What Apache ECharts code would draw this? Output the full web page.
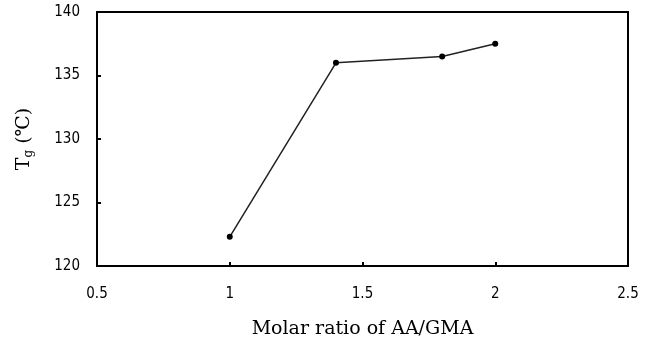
<!DOCTYPE html>
<html>
<head>
<meta charset="utf-8">
<script src="https://cdn.jsdelivr.net/npm/echarts@6/dist/echarts.min.js"></script>
<style>
  html, body { margin: 0; padding: 0; background: #fff; overflow: hidden; }
  #chart { width: 655px; height: 347px; }
</style>
</head>
<body>
<div id="chart"></div>
<script>
// Molar ratio AA/GMA vs glass transition temperature
const ratios = [1, 1.4, 1.8, 2];
const tgValues = [122.3, 136, 136.5, 137.5];
const xTicks = [0.5, 1, 1.5, 2, 2.5];
const yTicks = [120, 125, 130, 135, 140];

const chart = echarts.init(document.getElementById('chart'));
const tickFont = '"DejaVu Sans Condensed", "Liberation Sans", sans-serif';
const titleFont = '"DejaVu Serif", "Liberation Serif", serif';

chart.setOption({
  animation: false,
  backgroundColor: '#fff',
  grid: {
    left: 97, right: 27, top: 12, bottom: 81,
    outerBoundsMode: 'none', containLabel: false,
    show: true, borderColor: '#000', borderWidth: 2, backgroundColor: 'transparent'
  },
  xAxis: {
    type: 'value',
    min: xTicks[0], max: xTicks[xTicks.length - 1], interval: 0.5,
    name: 'Molar ratio of AA/GMA',
    nameLocation: 'middle', nameGap: 54,
    nameTextStyle: { fontFamily: titleFont, fontSize: 19, color: '#000' },
    axisLine: { show: true, lineStyle: { color: '#000', width: 2 } },
    axisTick: { show: true, inside: true, length: 4, lineStyle: { color: '#000', width: 2 } },
    axisLabel: { fontFamily: tickFont, fontSize: 15, color: '#000', margin: 21,
      formatter: v => String(v) },
    splitLine: { show: false }
  },
  yAxis: {
    type: 'value',
    min: yTicks[0], max: yTicks[yTicks.length - 1], interval: 5,
    name: 'T{sub|g} (℃)',
    nameLocation: 'middle', nameGap: 62, nameRotate: 90,
    nameTextStyle: { fontFamily: titleFont, fontSize: 19, color: '#000',
      rich: { sub: { fontFamily: titleFont, fontSize: 12, verticalAlign: 'bottom', padding: [9, 0, 0, 0] } } },
    axisLine: { show: true, lineStyle: { color: '#000', width: 2 } },
    axisTick: { show: true, inside: true, length: 4, lineStyle: { color: '#000', width: 2 } },
    axisLabel: { fontFamily: tickFont, fontSize: 15, color: '#000', margin: 17 },
    splitLine: { show: false }
  },
  series: [{
    type: 'line',
    data: ratios.map((x, i) => [x, tgValues[i]]),
    symbol: 'circle', symbolSize: 6,
    itemStyle: { color: '#000' },
    lineStyle: { color: '#222', width: 1.5 }
  }]
});
</script>
</body>
</html>
